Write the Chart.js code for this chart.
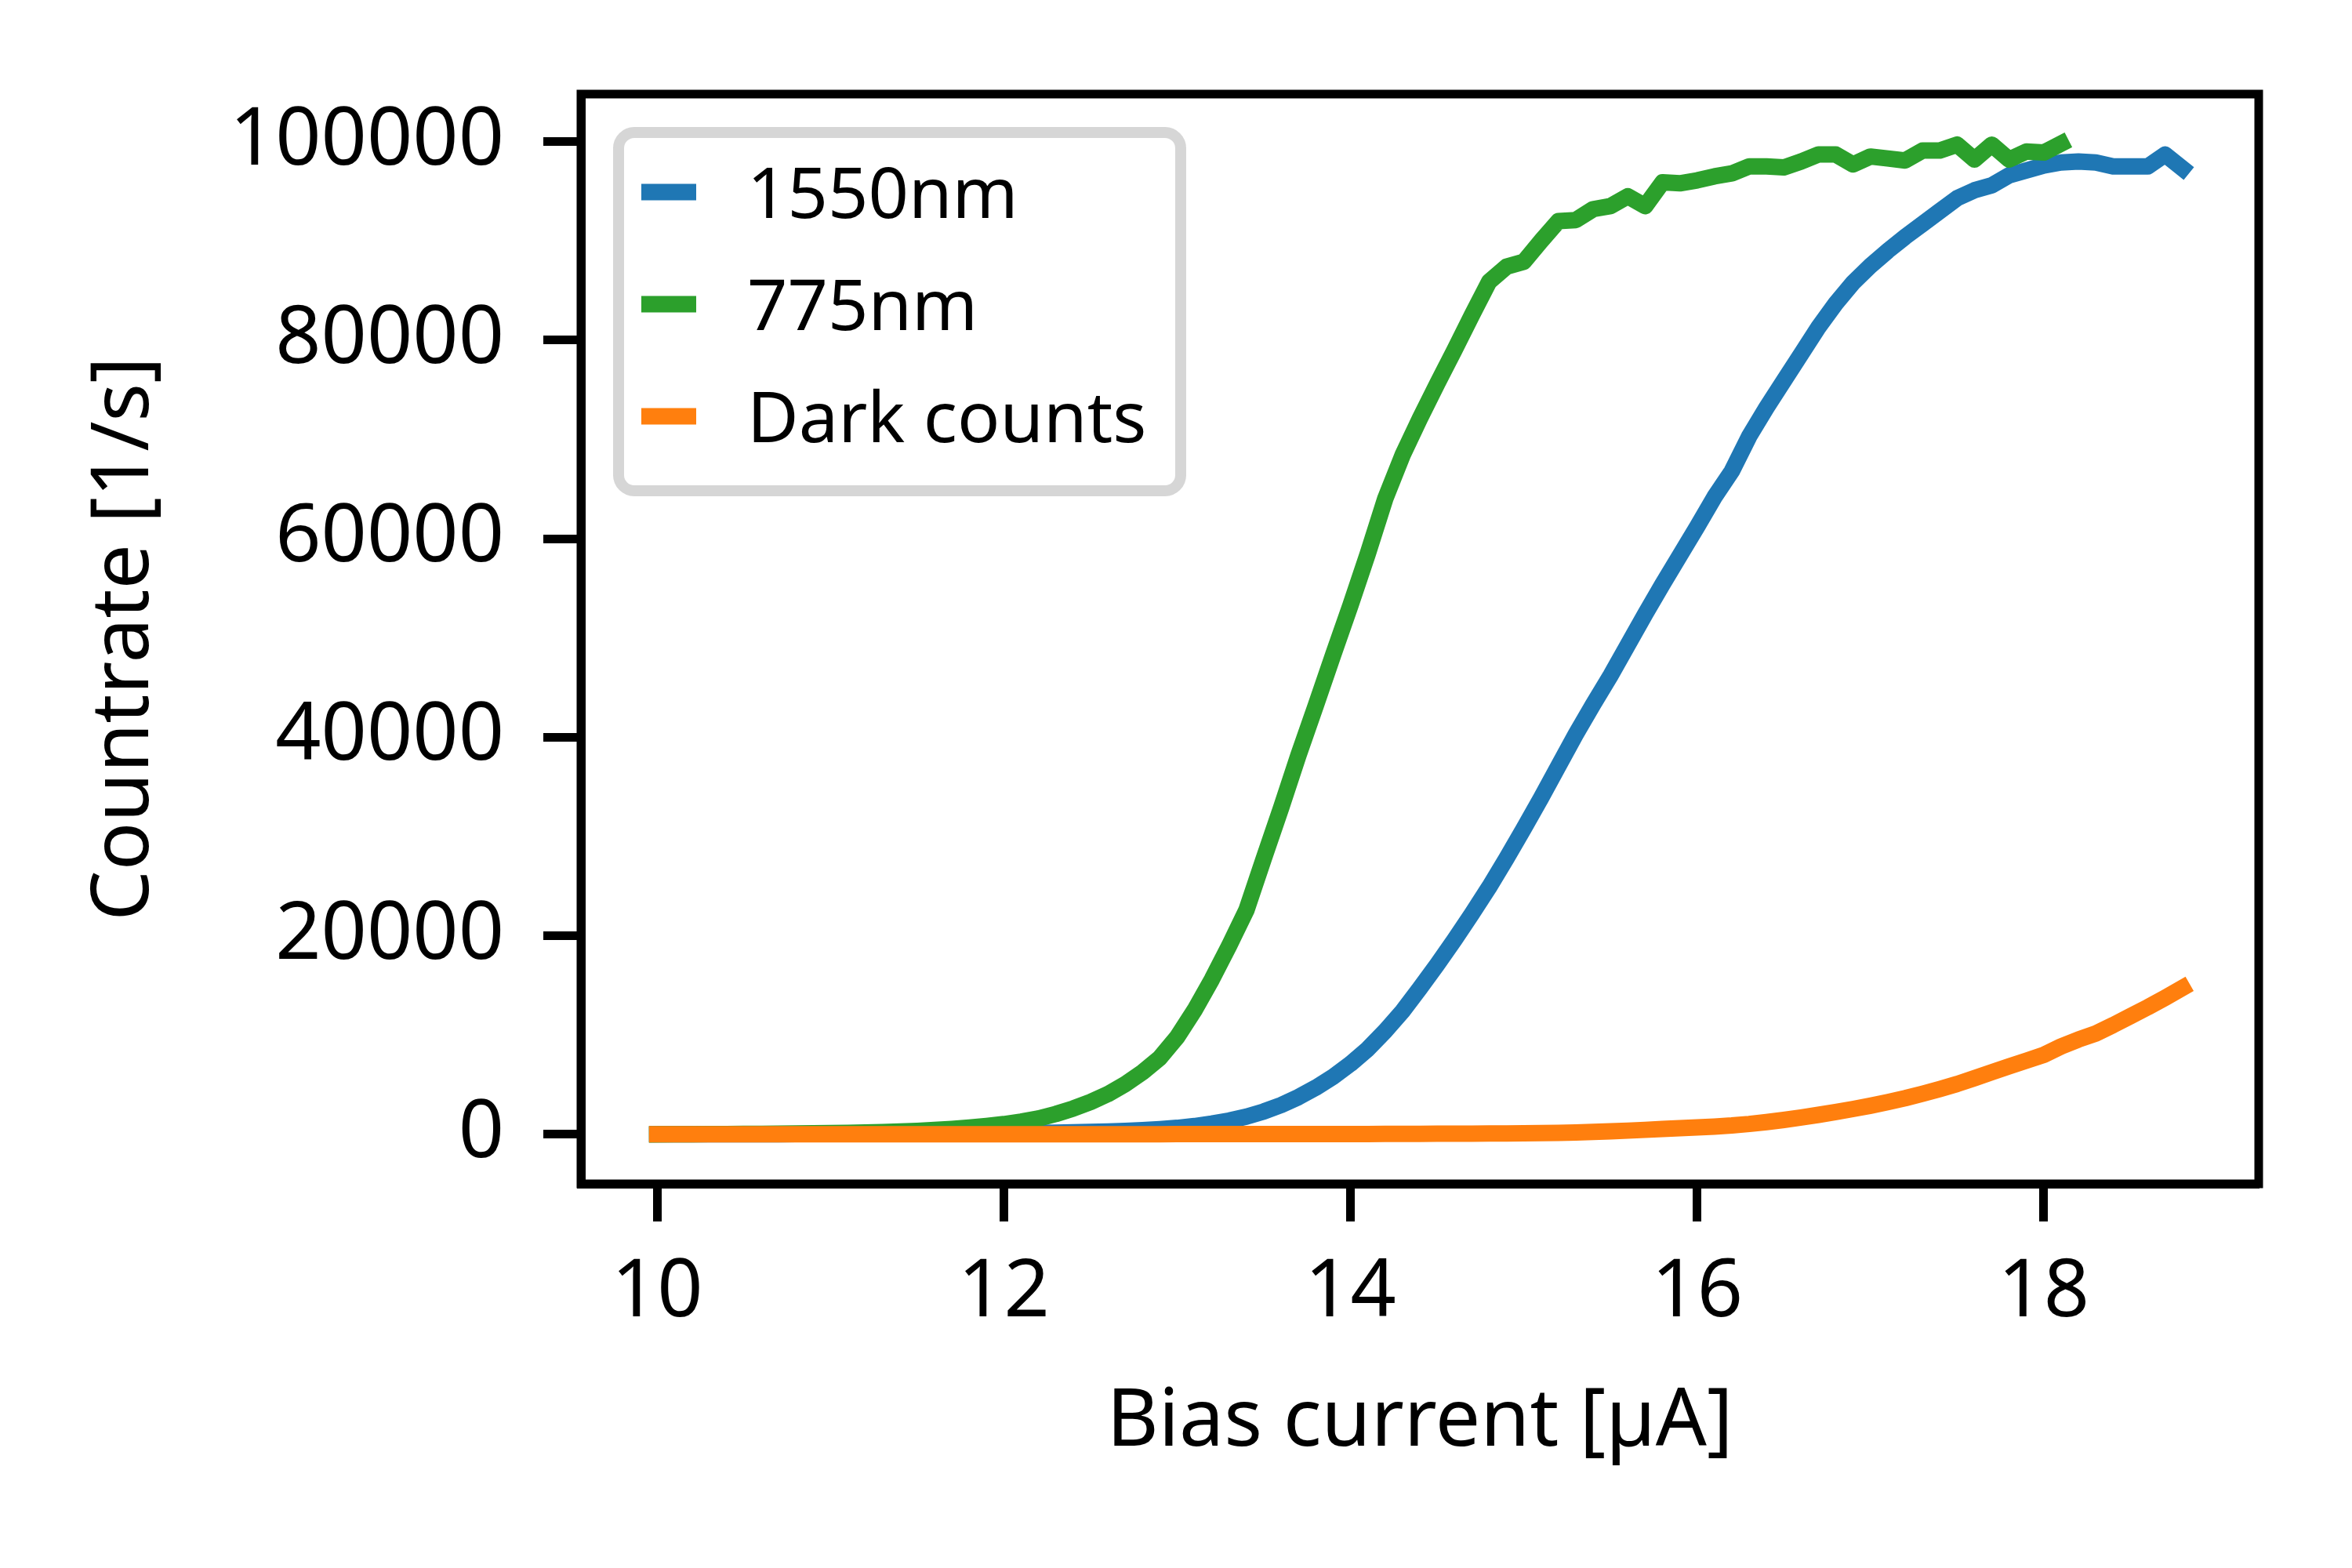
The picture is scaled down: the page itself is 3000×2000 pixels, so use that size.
<!DOCTYPE html>
<html>
<head>
<meta charset="utf-8">
<script src="https://cdn.jsdelivr.net/npm/chart.js@4.4.1/dist/chart.umd.min.js"></script>
<style>
  html, body { margin: 0; padding: 0; background: #fff; }
  #wrap { width: 3000px; height: 2000px; }
</style>
</head>
<body>
<div id="wrap"><canvas id="chart" width="3000" height="2000"></canvas></div>
<script>
// bias current sweep [uA]
const biasCurrent = [
  10.0, 10.1, 10.2, 10.3, 10.4, 10.5, 10.6, 10.7, 10.8, 10.9,
  11.0, 11.1, 11.2, 11.3, 11.4, 11.5, 11.6, 11.7, 11.8, 11.9,
  12.0, 12.1, 12.2, 12.3, 12.4, 12.5, 12.6, 12.7, 12.8, 12.9,
  13.0, 13.1, 13.2, 13.3, 13.4, 13.5, 13.6, 13.7, 13.8, 13.9,
  14.0, 14.1, 14.2, 14.3, 14.4, 14.5, 14.6, 14.7, 14.8, 14.9,
  15.0, 15.1, 15.2, 15.3, 15.4, 15.5, 15.6, 15.7, 15.8, 15.9,
  16.0, 16.1, 16.2, 16.3, 16.4, 16.5, 16.6, 16.7, 16.8, 16.9,
  17.0, 17.1, 17.2, 17.3, 17.4, 17.5, 17.6, 17.7, 17.8, 17.9,
  18.0, 18.1, 18.2, 18.3, 18.4, 18.5, 18.6, 18.7, 18.8
]

const counts1550 = [
  0, 0, 0, 0, 0, 10, 10, 10, 20, 20,
  20, 30, 30, 40, 40, 50, 60, 70, 80, 90,
  100, 120, 140, 170, 200, 240, 290, 350, 420, 520,
  650, 830, 1080, 1380, 1780, 2300, 2950, 3750, 4700, 5800,
  7100, 8600, 10400, 12400, 14700, 17100, 19600, 22200, 24900, 27800,
  30800, 33900, 37100, 40300, 43300, 46200, 49300, 52400, 55400, 58300,
  61200, 64200, 66800, 70300, 73200, 75900, 78600, 81300, 83700, 85800,
  87500, 89000, 90400, 91700, 93000, 94300, 95100, 95600, 96600, 97100,
  97600, 97900, 98000, 97900, 97500, 97500, 97500, 98700, 97300
]

// 775nm sweep stops at 18.1 uA
const counts775 = [
  0, 10, 10, 20, 30, 40, 50, 60, 80, 100,
  120, 150, 180, 220, 280, 350, 440, 550, 680, 840,
  1030, 1280, 1600, 2050, 2600, 3250, 4050, 5050, 6250, 7700,
  9800, 12500, 15600, 19000, 22600, 27800, 32900, 38200, 43200, 48300,
  53300, 58500, 64000, 68400, 72100, 75600, 79000, 82500, 85900, 87400,
  87900, 90000, 92000, 92100, 93200, 93500, 94500, 93500, 95900, 95800,
  96100, 96500, 96800, 97500, 97500, 97400, 98000, 98700, 98700, 97700,
  98500, 98300, 98100, 99100, 99100, 99700, 98200, 99700, 98200, 99000,
  98900, 99800
]

const darkCounts = [
  0, 0, 0, 0, 0, 0, 0, 0, 0, 0,
  0, 0, 0, 0, 0, 0, 0, 0, 0, 0,
  10, 10, 10, 10, 10, 10, 10, 10, 10, 10,
  20, 20, 20, 20, 20, 20, 20, 20, 20, 20,
  30, 30, 40, 40, 50, 60, 60, 70, 80, 90,
  100, 120, 150, 190, 240, 300, 370, 450, 530, 610,
  690, 780, 890, 1040, 1230, 1450, 1700, 1960, 2240, 2550,
  2880, 3250, 3640, 4080, 4560, 5070, 5650, 6250, 6850, 7420,
  8000, 8850, 9550, 10150, 11000, 11900, 12800, 13750, 14750
]

const xTicks = [10, 12, 14, 16, 18]
const yTicks = [0, 20000, 40000, 60000, 80000, 100000]
const seriesLabels = ['1550nm', '775nm', 'Dark counts']
const seriesColors = ['#1f77b4', '#2ca02c', '#ff7f0e']

const FONT = 'Noto Sans'
const toPoints = (xs, ys) => ys.map((y, i) => ({ x: xs[i], y }))

const line = (i, values, order) => ({
  label: seriesLabels[i],
  data: toPoints(biasCurrent, values),
  borderColor: seriesColors[i],
  backgroundColor: seriesColors[i],
  borderWidth: 21,
  borderCapStyle: 'square',
  borderJoinStyle: 'round',
  pointRadius: 0,
  tension: 0,
  fill: false,
  order
})

// top/right spines, matplotlib style box
const frame = {
  id: 'frame',
  afterDatasetsDraw (chart) {
    const { ctx, chartArea: a } = chart
    ctx.save()
    ctx.lineWidth = 11
    ctx.strokeStyle = '#000'
    ctx.strokeRect(a.left, a.top, a.right - a.left, a.bottom - a.top)
    ctx.restore()
  }
}

// legend in the upper-left corner of the axes
const legendBox = {
  id: 'legendBox',
  afterDraw (chart) {
    const { ctx, chartArea: a } = chart
    const left = a.left + 48
    const top = a.top + 49
    ctx.save()
    ctx.beginPath()
    ctx.roundRect(left, top, 717, 457, 20)
    ctx.fillStyle = 'rgba(255,255,255,0.8)'
    ctx.fill()
    ctx.lineWidth = 14
    ctx.strokeStyle = '#d6d6d6'
    ctx.stroke()
    ctx.font = '90px "' + FONT + '"'
    ctx.textBaseline = 'alphabetic'
    chart.data.datasets.forEach((ds, i) => {
      const cy = top + 76 + i * 143
      ctx.fillStyle = ds.borderColor
      ctx.fillRect(left + 29, cy - 10.5, 70, 21)
      ctx.fillStyle = '#000'
      ctx.fillText(ds.label, left + 164, cy + 33)
    })
    ctx.restore()
  }
}

const axisFont = { family: FONT, size: 102 }
const gridOpts = { drawOnChartArea: false, drawTicks: true, tickLength: 48, tickWidth: 11, tickColor: '#000' }
const borderOpts = { display: true, color: '#000', width: 11 }

const ctx = document.getElementById('chart').getContext('2d')
const chart = new Chart(ctx, {
  type: 'line',
  data: {
    datasets: [
      line(0, counts1550, 3),
      line(1, counts775, 2),
      line(2, darkCounts, 1)
    ]
  },
  options: {
    responsive: false,
    devicePixelRatio: 1,
    animation: false,
    layout: { padding: { top: 120, right: 119, left: 0, bottom: 0 } },
    plugins: {
      legend: { display: false },
      tooltip: { enabled: false }
    },
    scales: {
      x: {
        type: 'linear',
        min: 9.56,
        max: 19.24,
        afterBuildTicks: s => { s.ticks = xTicks.map(v => ({ value: v })) },
        afterFit: s => { s.height = 490 },
        grid: gridOpts,
        border: borderOpts,
        ticks: { color: '#000', font: axisFont, padding: 31, maxRotation: 0, autoSkip: false, callback: v => String(v) },
        title: { display: true, text: 'Bias current [µA]', color: '#000', font: axisFont, padding: { top: 0, bottom: 124 } }
      },
      y: {
        type: 'linear',
        min: -4990,
        max: 104790,
        afterBuildTicks: s => { s.ticks = yTicks.map(v => ({ value: v })) },
        afterFit: s => { s.width = 741 },
        grid: gridOpts,
        border: borderOpts,
        ticks: { color: '#000', font: axisFont, padding: 50, autoSkip: false, callback: v => String(v) },
        title: { display: true, text: 'Countrate [1/s]', color: '#000', font: axisFont, padding: { top: 99, bottom: 0 } }
      }
    }
  },
  plugins: [frame, legendBox]
})
</script>
</body>
</html>
